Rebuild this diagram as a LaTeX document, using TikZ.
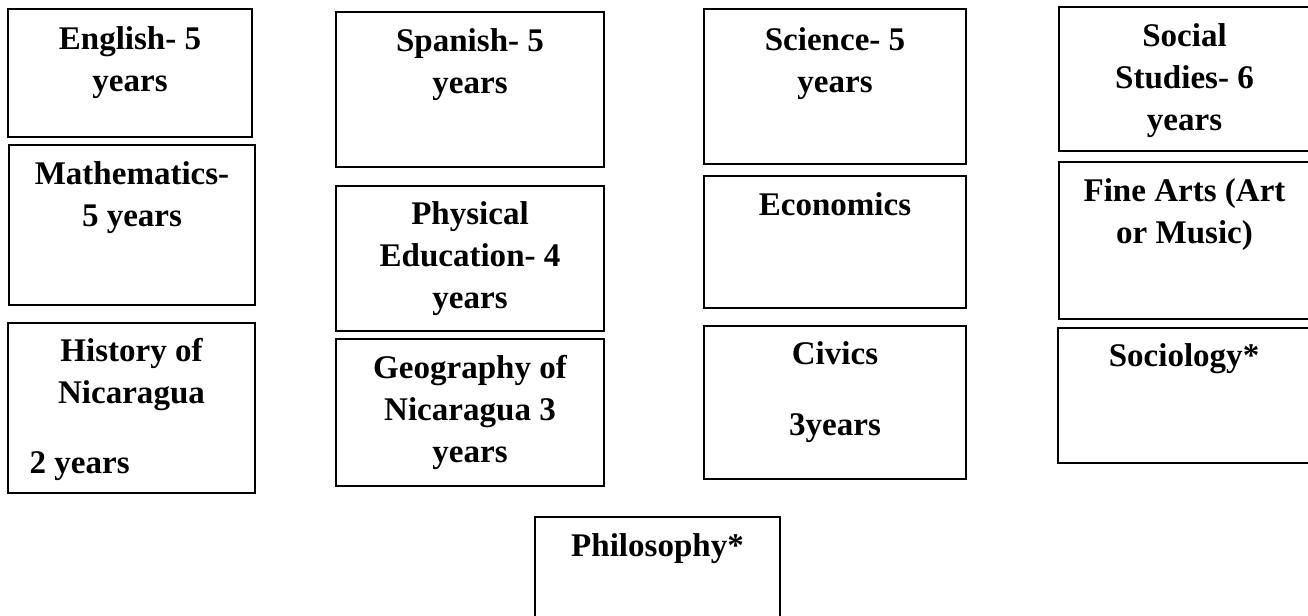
\documentclass[tikz,border=0pt]{standalone}
\usepackage{fontspec}
\setmainfont{Liberation Serif}
\usetikzlibrary{positioning,calc}

\tikzset{
  subject/.style={draw, rectangle, line width=0.6pt, inner sep=0pt},
  subjtext/.style={align=center, anchor=base, inner sep=0pt, font=\bfseries\fontsize{9.4}{11.95}\selectfont}
}

\begin{document}
\begin{tikzpicture}

% Page frame
\clip (0,0) rectangle (13.08,-6.15);

% First column
\node[subject, minimum width=2.44cm, minimum height=1.28cm] (english) at (1.30,-0.73) {};
\node[subject, minimum width=2.46cm, minimum height=1.60cm] (maths) at (1.32,-2.25) {};
\node[subject, minimum width=2.47cm, minimum height=1.70cm] (history) at (1.315,-4.08) {};

% (base anchor sits on the last line)
\node[subjtext] (englishtxt) at ([yshift=-0.84cm]english.north) {English- 5\\years};
\node[subjtext] (mathstxt) at ([yshift=-0.83cm]maths.north) {Mathematics-\\5 years};
\node[subjtext] (historytxt) at ([yshift=-0.82cm]history.north) {History of\\Nicaragua};
\node[subjtext, anchor=base west] (historyyrs) at ([xshift=0.22cm, yshift=-1.52cm]history.north west) {2 years};

% Second column
\node[subject, minimum width=2.68cm, minimum height=1.55cm] (spanish) at (4.70,-0.895) {};
\node[subject, minimum width=2.68cm, minimum height=1.45cm] (phys) at (4.70,-2.585) {};
\node[subject, minimum width=2.68cm, minimum height=1.47cm] (geo) at (4.70,-4.125) {};

\node[subjtext] (spanishtxt) at ([yshift=-0.83cm]spanish.north) {Spanish- 5\\years};
\node[subjtext] (phystxt) at ([yshift=-1.24cm]phys.north) {Physical\\Education- 4\\years};
\node[subjtext] (geotxt) at ([yshift=-1.25cm]geo.north) {Geography of\\Nicaragua 3\\years};

% Third column
\node[subject, minimum width=2.62cm, minimum height=1.55cm] (science) at (8.35,-0.865) {};
\node[subject, minimum width=2.62cm, minimum height=1.32cm] (econ) at (8.35,-2.42) {};
\node[subject, minimum width=2.62cm, minimum height=1.53cm] (civics) at (8.35,-4.025) {};

\node[subjtext] (sciencetxt) at ([yshift=-0.85cm]science.north) {Science- 5\\years};
\node[subjtext] (econtxt) at ([yshift=-0.41cm]econ.north) {Economics};
\node[subjtext] (civicstxt) at ([yshift=-1.11cm]civics.north) {Civics\\[0.29cm]3years};

% Fourth column (runs off the right edge)
\node[subject, minimum width=2.51cm, minimum height=1.44cm] (social) at (11.845,-0.79) {};
\node[subject, minimum width=2.51cm, minimum height=1.57cm] (arts) at (11.845,-2.405) {};
\node[subject, minimum width=2.52cm, minimum height=1.35cm] (socio) at (11.84,-3.955) {};

\node[subjtext] (socialtxt) at ([yshift=-1.25cm]social.north) {Social\\Studies- 6\\years};
\node[subjtext] (artstxt) at ([yshift=-0.83cm]arts.north) {Fine Arts (Art\\or Music)};
\node[subjtext] (sociotxt) at ([yshift=-0.40cm]socio.north) {Sociology*};

% Bottom (runs off the page)
\node[subject, minimum width=2.45cm, minimum height=1.40cm] (philo) at (6.575,-5.87) {};
\node[subjtext] (philotxt) at ([yshift=-0.41cm]philo.north) {Philosophy*};

\end{tikzpicture}
\end{document}
